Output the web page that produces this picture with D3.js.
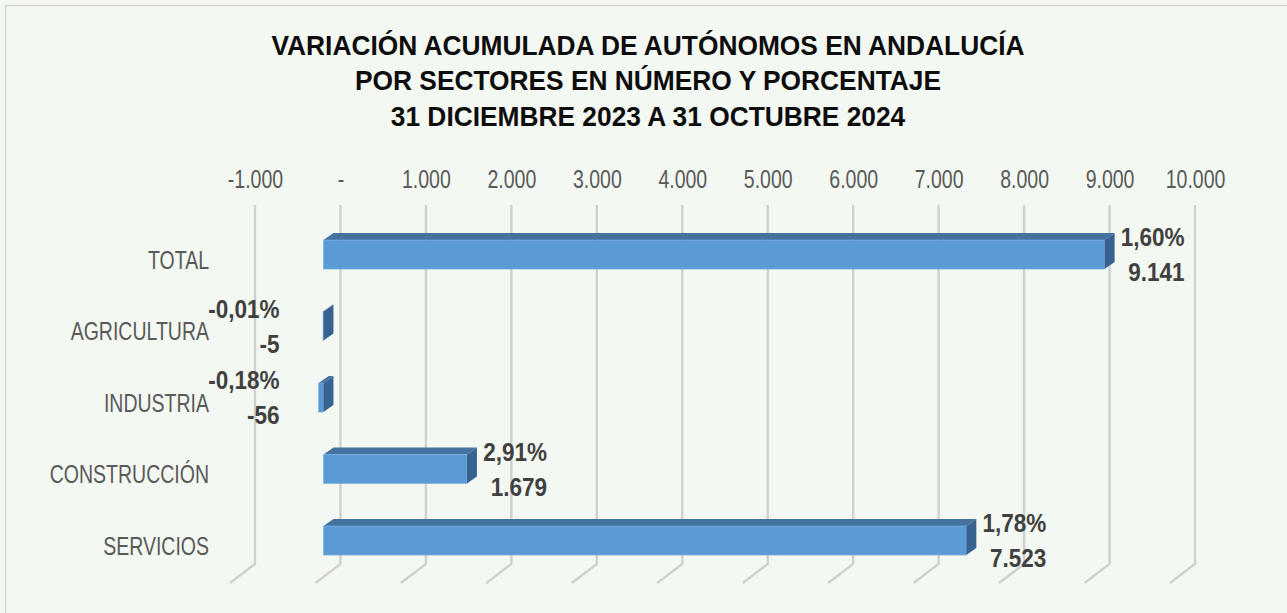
<!DOCTYPE html>
<html>
<head>
<meta charset="utf-8">
<script src="https://cdn.jsdelivr.net/npm/d3@7"></script>
<style>
  html, body { margin: 0; padding: 0; background: #f4f8f2; }
  svg { display: block; }
  text { font-family: "Liberation Sans", Arial, sans-serif; }
</style>
</head>
<body>
<svg id="chart" width="1287" height="613"></svg>
<script>
// ---- data ----
const titleLines = [
  "VARIACIÓN ACUMULADA DE AUTÓNOMOS EN ANDALUCÍA",
  "POR SECTORES EN NÚMERO Y PORCENTAJE",
  "31 DICIEMBRE 2023 A 31 OCTUBRE 2024"
];
const categories = ["TOTAL", "AGRICULTURA", "INDUSTRIA", "CONSTRUCCIÓN", "SERVICIOS"];
const values = [9141, -5, -56, 1679, 7523];
const percents = ["1,60%", "-0,01%", "-0,18%", "2,91%", "1,78%"];
const tickValues = [-1000, 0, 1000, 2000, 3000, 4000, 5000, 6000, 7000, 8000, 9000, 10000];
const tickLabels = ["-1.000", "-", "1.000", "2.000", "3.000", "4.000", "5.000", "6.000", "7.000", "8.000", "9.000", "10.000"];

// ---- layout ----
const svg = d3.select("#chart");
const W = 1287, H = 613;
const fmt = d3.formatLocale({ decimal: ",", thousands: ".", grouping: [3], currency: ["", "€"], minus: "-" }).format(",d");

// condense text horizontally (Arial Narrow look)
function narrow(sel, f) {
  sel.each(function () {
    const L = this.getComputedTextLength();
    d3.select(this).attr("textLength", L * f).attr("lengthAdjust", "spacingAndGlyphs");
  });
}

svg.append("rect").attr("x", 0).attr("y", 0).attr("width", W).attr("height", H).attr("fill", "#f4f8f2");
svg.append("rect").attr("x", 5.5).attr("y", 5.5).attr("width", W + 20).attr("height", H + 20)
  .attr("fill", "none").attr("stroke", "#d6d8d4").attr("stroke-width", 1.5);

// title
svg.append("g").selectAll("text").data(titleLines).join("text")
  .attr("x", 648).attr("y", (d, i) => 45 + i * 35.5)
  .attr("text-anchor", "middle").attr("dominant-baseline", "central")
  .attr("font-size", 28).attr("font-weight", "bold").attr("fill", "#0d0d0d")
  .text(d => d)
  .call(narrow, 0.94);

// scales
const xBack = d3.scaleLinear().domain([-1000, 10000]).range([255, 1195]);
const front = { dx: -17 };              // front plane offset relative to back wall
const depth = { dx: 10, dy: -7 };       // bar depth
const xF = v => xBack(v) + front.dx;
const y = d3.scaleBand().domain(categories).range([218.8, 576.3]).paddingInner(0.594).paddingOuter(0.297);

// gridlines (back wall + floor)
const gridTop = 205, gridBottom = 564, floor = { dx: -25, dy: 19 };
const grid = svg.append("g");
grid.selectAll("path").data(tickValues).join("path")
  .attr("d", d => `M${xBack(d)},${gridTop}V${gridBottom}l${floor.dx},${floor.dy}`)
  .attr("fill", "none").attr("stroke", "#d0d1ce").attr("stroke-width", 2.4);

// top axis
const axTop = svg.append("g").attr("transform", "translate(0,188)")
  .call(d3.axisTop(xBack).tickValues(tickValues).tickFormat((d, i) => tickLabels[i]).tickSize(0).tickPadding(0));
axTop.select(".domain").remove();
axTop.selectAll("text").attr("font-size", 25).attr("fill", "#595959")
  .attr("font-family", "'Liberation Sans',Arial,sans-serif").attr("dy", 0)
  .call(narrow, 0.78);

// category axis
const axLeft = svg.append("g").attr("transform", "translate(211,6)")
  .call(d3.axisLeft(y).tickSize(0).tickPadding(2));
axLeft.select(".domain").remove();
axLeft.selectAll("text").attr("font-size", 25).attr("fill", "#595959")
  .attr("font-family", "'Liberation Sans',Arial,sans-serif")
  .call(narrow, 0.78);

// bars
const rows = categories.map((c, i) => ({ c, v: values[i], p: percents[i] }));
const bars = svg.append("g").selectAll("g").data(rows).join("g");
const bw = y.bandwidth();
bars.each(function (d) {
  const g = d3.select(this);
  const x0 = xF(Math.min(0, d.v)), x1 = xF(Math.max(0, d.v));
  const yt = y(d.c);
  g.append("path")
    .attr("d", `M${x0},${yt}L${x1},${yt}L${x1 + depth.dx},${yt + depth.dy}L${x0 + depth.dx},${yt + depth.dy}Z`)
    .attr("fill", "#4473a0");
  g.append("rect").attr("x", x0).attr("y", yt).attr("width", Math.max(0, x1 - x0)).attr("height", bw)
    .attr("fill", "#5b9bd5").attr("stroke", "#7fb2e0").attr("stroke-width", 0.6);
  g.append("path")
    .attr("d", `M${x1},${yt}L${x1 + depth.dx},${yt + depth.dy}L${x1 + depth.dx},${yt + bw + depth.dy}L${x1},${yt + bw}Z`)
    .attr("fill", "#386390");
});

// data labels
const labels = svg.append("g").selectAll("g").data(rows).join("g")
  .attr("transform", d => {
    const yc = y(d.c) + bw / 2;
    const xa = d.v >= 0 ? xF(d.v) + 80 : xF(0) - 44;
    return `translate(${xa},${yc})`;
  });
labels.append("text").attr("y", -17.5).text(d => d.p);
labels.append("text").attr("y", 17.5).text(d => fmt(d.v));
labels.selectAll("text").attr("text-anchor", "end").attr("dominant-baseline", "central")
  .attr("font-size", 25).attr("font-weight", "bold").attr("fill", "#404040")
  .call(narrow, 0.9);
</script>
</body>
</html>
